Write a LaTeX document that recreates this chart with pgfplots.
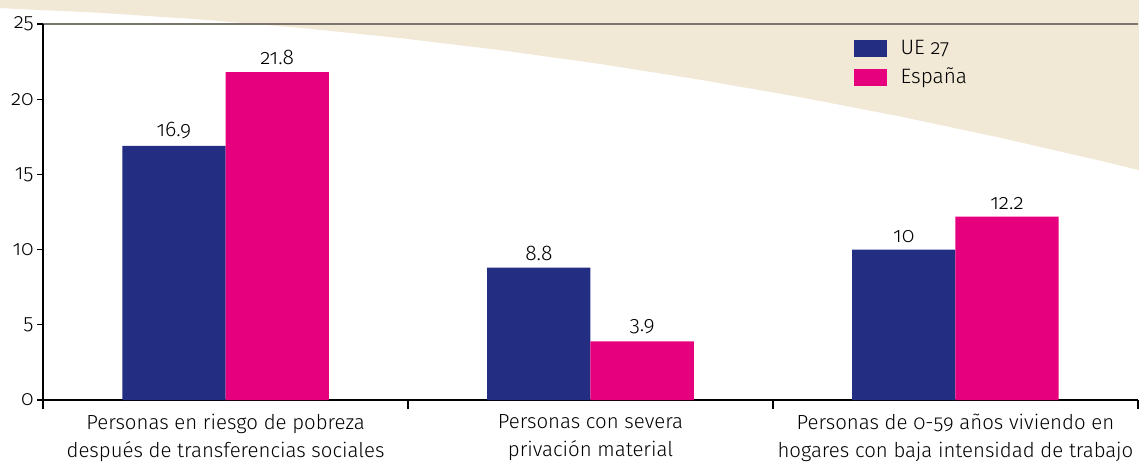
\documentclass[border=0pt]{standalone}
\usepackage{fontspec}
\setmainfont{Fira Sans}[UprightFont=* Light, Numbers=OldStyle]
\usepackage{pgfplots}
\pgfplotsset{compat=1.18}
\definecolor{ueblue}{RGB}{35,46,131}
\definecolor{espink}{RGB}{230,0,126}
\definecolor{beige}{RGB}{241,232,214}
\definecolor{topgray}{RGB}{122,118,109}
\begin{document}
\begin{tikzpicture}
\begin{axis}[
  scale only axis, width=547.5pt, height=188pt,
  xmin=-0.5, xmax=2.5, ymin=0, ymax=25,
  clip=false,
  axis x line=bottom, axis y line=left,
  axis line style={-, black, line width=0.6pt},
  /pgf/number format/assume math mode=true,
  ytick={0,5,10,15,20,25},
  ytick align=outside, ytick style={black, line width=0.6pt},
  major tick length=3pt,
  yticklabel style={font=\fontsize{10.5}{12}\selectfont, inner sep=1.5pt},
  xtick={0,1,2},
  xtick style={draw=none},
  xticklabels={Personas en riesgo de pobreza\\después de transferencias sociales,
               Personas con severa\\privación material,
               Personas de 0-59 años viviendo en\\hogares con baja intensidad de trabajo},
  xticklabel style={align=center, font=\fontsize{10.2}{14}\selectfont, yshift=-2pt},
  extra x ticks={-0.5,0.5,1.5,2.5},
  extra x tick labels={},
  extra x tick style={xtick style={draw=black, line width=0.6pt}, major tick length=4.5pt, xtick align=outside},
  legend style={at={(rel axis cs:0.7345,0.975)}, anchor=north west, draw=none, fill=none,
    font=\fontsize{10.4}{12}\selectfont, row sep=3.5pt, column sep=0pt,
    nodes={inner xsep=7pt, inner ysep=1pt, anchor=west}},
  legend cell align=left,
  legend image code/.code={\fill[#1] (0pt,-4.25pt) rectangle (16.5pt,4.25pt);},
]
% background swoosh
\addplot[fill=beige, draw=none, forget plot] coordinates {
  (-0.618,26.6) (-0.618,26.06) (-0.344,25.75) (-0.070,25.31) (0.204,24.75)
  (0.478,24.07) (0.752,23.27) (1.026,22.35) (1.300,21.30) (1.574,20.14)
  (1.848,18.86) (2.121,17.45) (2.396,15.92) (2.503,15.29) (2.503,26.6)} --cycle;
\addplot[ybar, bar width=0.283, bar shift=-0.1415, fill=ueblue, draw=none,
  nodes near coords, every node near coord/.append style={font=\fontsize{10.6}{12}\selectfont, black, xshift=-25.82pt, yshift=0pt}]
  coordinates {(0,16.9) (1,8.8) (2,10)};
\addlegendentry{UE 27}
\addplot[ybar, bar width=0.283, bar shift=0.1415, fill=espink, draw=none,
  nodes near coords, every node near coord/.append style={font=\fontsize{10.6}{12}\selectfont, black, xshift=25.82pt, yshift=0pt}]
  coordinates {(0,21.8) (1,3.9) (2,12.2)};
\addlegendentry{España}
\draw[topgray, line width=0.9pt] (rel axis cs:0,1) -- (rel axis cs:1,1);
\draw[black, line width=0.6pt] (rel axis cs:0,0) -- (rel axis cs:0,1);
\coordinate (BL) at (axis cs:-0.618,-4.19);
\coordinate (TR) at (axis cs:2.503,26.6);
\end{axis}
\pgfresetboundingbox
\path[use as bounding box] (BL) rectangle (TR);
\end{tikzpicture}
\end{document}
